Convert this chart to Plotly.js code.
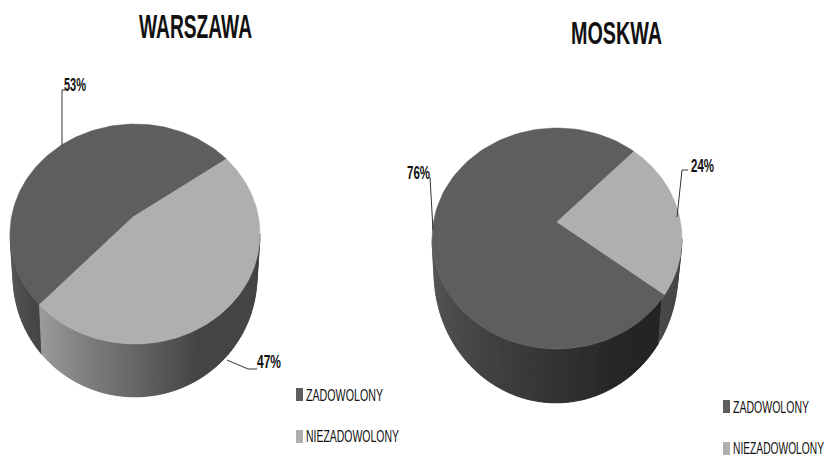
<!DOCTYPE html>
<html><head><meta charset="utf-8">
<script src="https://cdn.plot.ly/plotly-3.0.1.min.js"></script>
<style>html,body{margin:0;padding:0;background:#fff;overflow:hidden}#c{width:825px;height:455px}</style>
</head><body><div id="c"></div>
<script>
// ---- data ----
const categories = ['ZADOWOLONY', 'NIEZADOWOLONY'];
const warszawaValues = [53, 47];
const moskwaValues = [76, 24];
const cityNames = ['WARSZAWA', 'MOSKWA'];

const DARK = '#5e5e5e', LIGHT = '#afafaf', INK = '#111111', FONT = '"Liberation Sans Narrow","Liberation Sans",sans-serif';

// ---- drawing geometry ----
const pies = [
  {values: warszawaValues, cx:135, cy:234, rx:125, ry:110, ax:133, ay:217, cx2:135, cy2:277, rx2:122, ry2:120,
   start:43, squash:0.928,
   wall:[[[180,'#5c5c5c'],[220,'#444444']], [[220,'#9c9c9c'],[300,'#454545'],[360,'#454545']]]},
  {values: moskwaValues, cx:557, cy:238.5, rx:125, ry:110.5, ax:557, ay:222, cx2:556, cy2:273, rx2:122, ry2:130,
   start:52, squash:1.014,
   wall:[[[180,'#5a5a5a'],[300,'#262626'],[327,'#242424']], [[327,'#4a4a4a'],[360,'#444444']]]}
];

const rad = d => d * Math.PI / 180;
const hex = c => [1,3,5].map(i => parseInt(c.substr(i,2),16));
function shade(stops, t){
  for (let i=0;i<stops.length-1;i++){
    const [t0,c0]=stops[i],[t1,c1]=stops[i+1];
    if (t<=t1){const f=(t-t0)/(t1-t0),a=hex(c0),b=hex(c1);
      return 'rgb('+a.map((v,k)=>Math.round(v+(b[k]-v)*f)).join(',')+')';}
  }
  return stops[stops.length-1][1];
}
const traces = [];
pies.forEach(p => {
  // side wall as overlapping strips, shaded left to right; later strips cover the seam of earlier ones
  p.wall.forEach(stops => {
    const a = stops[0][0], b = stops[stops.length-1][0];
    for (let t=a; t<b; t+=2){
      const e = Math.min(t+4,b), xs=[], ys=[];
      for (let q=t;q<=e;q+=1){xs.push(p.cx+p.rx*Math.cos(rad(q)));ys.push(p.cy-p.ry*Math.sin(rad(q)));}
      for (let q=e;q>=t;q-=1){xs.push(p.cx2+p.rx2*Math.cos(rad(q)));ys.push(p.cy2-p.ry2*Math.sin(rad(q)));}
      xs.push(xs[0]);ys.push(ys[0]);
      const col = shade(stops,t+1);
      traces.push({type:'scatter',mode:'lines',x:xs,y:ys,fill:'toself',fillcolor:col,line:{color:col,width:0.3},hoverinfo:'skip',showlegend:false});
    }
  });
  // top face: arc lengths come from the values
  const total = p.values[0]+p.values[1];
  const firstArc = p.values[0]/total*360*p.squash;
  const arcs = [[p.start,p.start+firstArc,DARK],[p.start+firstArc,p.start+360,LIGHT]];
  arcs.forEach(([a,b,col])=>{
    const xs=[p.ax],ys=[p.ay];
    for(let t=a;t<=b+0.001;t+=(b-a)/120){xs.push(p.cx+p.rx*Math.cos(rad(t)));ys.push(p.cy-p.ry*Math.sin(rad(t)));}
    xs.push(p.ax);ys.push(p.ay);
    traces.push({type:'scatter',mode:'lines',x:xs,y:ys,fill:'toself',fillcolor:col,line:{color:col,width:0.5},hoverinfo:'skip',showlegend:false});
  });
});

// leader lines
[[[62,62,65],[146,90,90]],[[227,248,257],[360,369,369]],[[677,682,688],[217,170,170]],[[433,430,430],[230,177,177]]].forEach(([x,y])=>{
  traces.push({type:'scatter',mode:'lines',x,y,line:{color:'#333333',width:1},hoverinfo:'skip',showlegend:false});
});

const widths = [];
const ann = [];
function add(text,x,y,size,w,bold){
  ann.push({text: bold?'<b>'+text+'</b>':text,x,y,xref:'x',yref:'y',showarrow:false,xanchor:'left',yanchor:'middle',
    font:{family:FONT,size,color:INK},align:'left'});
  widths.push(w);
}
add(cityNames[0],137,26,34,113,true);
add(cityNames[1],569,33,31,91,true);
add(warszawaValues[0]+'%',62,84,19,22,true);
add(warszawaValues[1]+'%',255,361,19,24,true);
add(moskwaValues[0]+'%',405,172,19,23,true);
add(moskwaValues[1]+'%',689,165,19,23,true);
add(categories[0],304,395,17,77,false);
add(categories[1],304,436,17,93,false);
add(categories[0],731,407,17,76,false);
add(categories[1],731,448,17,91,false);

const rect=(x0,y0,x1,y1,c)=>({type:'rect',xref:'x',yref:'y',x0,y0,x1,y1,fillcolor:c,line:{width:0}});
const layout={width:825,height:455,margin:{l:0,r:0,t:0,b:0},paper_bgcolor:'#fff',plot_bgcolor:'#fff',showlegend:false,
  xaxis:{range:[0,825],visible:false,fixedrange:true},yaxis:{range:[455,0],visible:false,fixedrange:true},
  annotations:ann,
  shapes:[rect(296,388,303,401,DARK),rect(296,430,303,443,LIGHT),rect(723,400,730,413,DARK),rect(723,442,730,455,LIGHT)]};
Plotly.newPlot('c',traces,layout,{displayModeBar:false,staticPlot:true}).then(()=>{
  document.querySelectorAll('.annotation-text').forEach((el,i)=>{
    el.setAttribute('textLength',widths[i]);el.setAttribute('lengthAdjust','spacingAndGlyphs');
  });
});
</script></body></html>
